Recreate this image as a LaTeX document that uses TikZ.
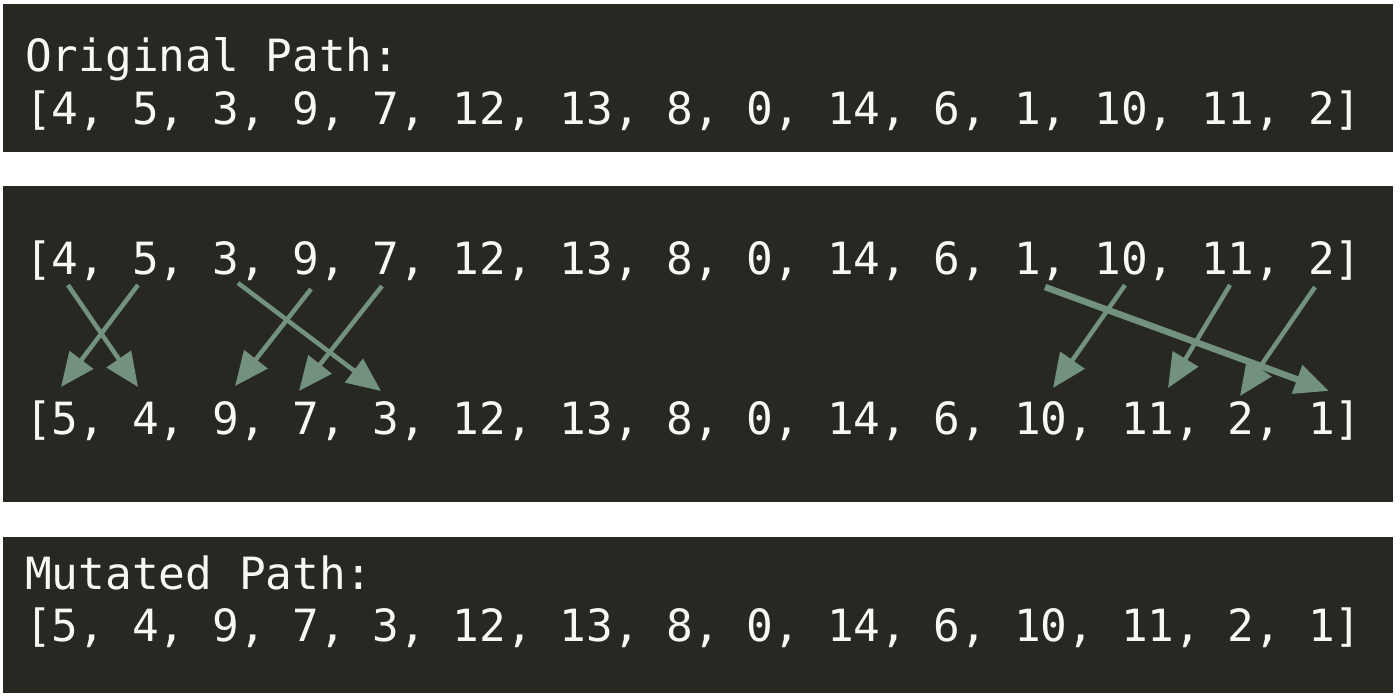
\documentclass[tikz,border=0pt]{standalone}
\usepackage{fontspec}
\setmonofont{DejaVu Sans Mono}
\usetikzlibrary{arrows.meta}
\definecolor{panelbg}{HTML}{272822}
\definecolor{codefg}{HTML}{F8F8F2}
\definecolor{swapcol}{HTML}{72927F}
\newcommand{\codefont}{\ttfamily\fontsize{44.4}{53}\selectfont}
\begin{document}
\begin{tikzpicture}[x=1pt,y=-1pt,
  panel/.style={fill=panelbg},
  code/.style={anchor=base west, inner sep=0pt, text=codefg, font=\codefont},
  swaparrow/.style={draw=swapcol, line width=4.5pt,
    -{Triangle[length=34pt,width=29pt]}},
  bigswap/.style={swaparrow, line width=6.5pt}]
\useasboundingbox (0,0) rectangle (1400,698);
\fill[white] (0,0) rectangle (1400,698);
% panels
\fill[panel] (3,4) rectangle (1393,152);
\fill[panel] (3,186) rectangle (1393,502);
\fill[panel] (3,537) rectangle (1393,693);
% top panel
\node[code] (otitle) at (25,72) {Original Path:};
\node[code] (olist) at (25,125) {[4, 5, 3, 9, 7, 12, 13, 8, 0, 14, 6, 1, 10, 11, 2]};
% middle panel
\node[code] (before) at (25,274) {[4, 5, 3, 9, 7, 12, 13, 8, 0, 14, 6, 1, 10, 11, 2]};
\node[code] (after) at (25,434) {[5, 4, 9, 7, 3, 12, 13, 8, 0, 14, 6, 10, 11, 2, 1]};
% bottom panel
\node[code] (mtitle) at (25,589) {Mutated Path:};
\node[code] (mlist) at (25,641) {[5, 4, 9, 7, 3, 12, 13, 8, 0, 14, 6, 10, 11, 2, 1]};
% arrow end points
\coordinate (a4) at (68,285);   \coordinate (b4) at (138,387);
\coordinate (a5) at (138,285);  \coordinate (b5) at (61,387);
\coordinate (a3) at (238,283);  \coordinate (b3) at (381,391);
\coordinate (a9) at (311,289);  \coordinate (b9) at (235,386);
\coordinate (a7) at (382,286);  \coordinate (b7) at (299,391);
\coordinate (a1) at (1045,287); \coordinate (b1) at (1329,391);
\coordinate (a10) at (1125,285);\coordinate (b10) at (1053,388);
\coordinate (a11) at (1230,285);\coordinate (b11) at (1168,388);
\coordinate (a2) at (1315,287); \coordinate (b2) at (1240,396);
% swaps
\draw[swaparrow] (a4) -- (b4);
\draw[swaparrow] (a5) -- (b5);
\draw[swaparrow] (a3) -- (b3);
\draw[swaparrow] (a9) -- (b9);
\draw[swaparrow] (a7) -- (b7);
\draw[bigswap] (a1) -- (b1);
\draw[swaparrow] (a10) -- (b10);
\draw[swaparrow] (a11) -- (b11);
\draw[swaparrow] (a2) -- (b2);
\end{tikzpicture}
\end{document}
